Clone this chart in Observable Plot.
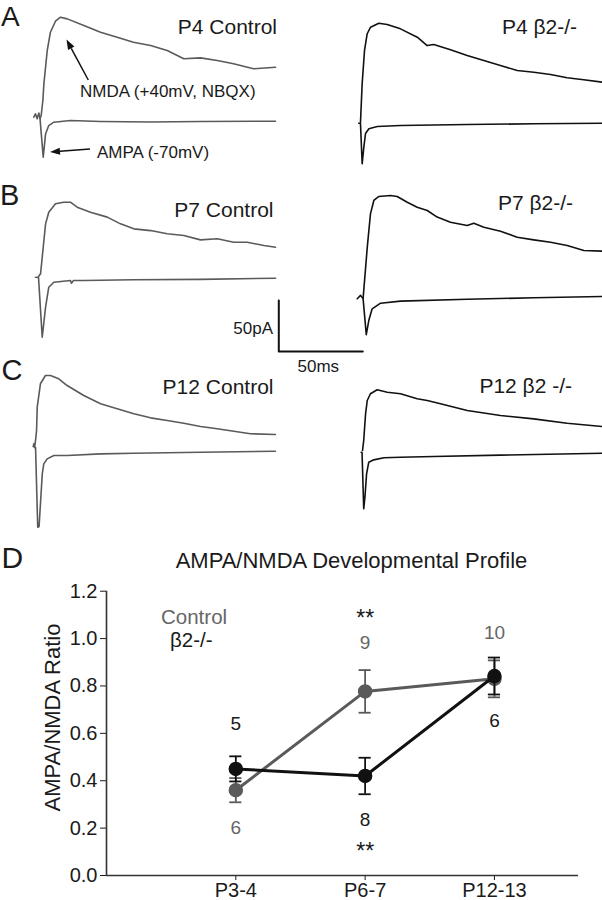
<!DOCTYPE html>
<html><head><meta charset="utf-8">
<script src="https://cdn.jsdelivr.net/npm/d3@7"></script>
<script src="https://cdn.jsdelivr.net/npm/@observablehq/plot@0.6"></script>
<style>
html,body{margin:0;padding:0;background:#fff;}
#fig{position:relative;width:602px;height:900px;overflow:hidden;font-family:"Liberation Sans",Arial,sans-serif;background:#fff;}
#fig > svg{position:absolute;margin:0;}
</style></head><body><div id="fig"></div>
<script>
// ---------- Data: recorded traces [time ms, current pA] ----------
const p4CtrlAMPA = [[0,0],[1.0,3.3],[2.0,-1.6],[3.0,4.1],[3.7,-1.3],[5.6,-39.2],[6.4,-26.2],[7.0,-16.4],[8.9,-8.2],[11.9,-4.9],[21.8,-3.3],[39.7,-4.2],[69.5,-4.7],[99.2,-4.2],[143.9,-3.9]];
const p4CtrlNMDA = [[3.7,-1.3],[4.4,1.7],[5.4,16.4],[6.0,32.7],[8.0,65.4],[9.9,83.3],[12.9,94.1],[15.9,98.0],[19.9,96.4],[29.8,89.9],[39.7,83.3],[49.6,78.4],[59.3,73.5],[69.5,70.3],[79.4,65.4],[89.3,57.3],[99.2,58.2],[109.2,55.6],[118.9,52.4],[130.8,47.5],[143.9,49.0]];
const p4KoAMPA = [[0,0],[1.0,-0.3],[2.0,-39.8],[3.0,-23.5],[4.0,-10.1],[6.0,-5.5],[11.0,-3.3],[24.8,-2.2],[64.5,-1.3],[104,-0.6],[144.9,0]];
const p4KoNMDA = [[1.0,0.6],[2.0,38.6],[3.4,71.3],[5.0,87.7],[7.0,94.1],[11.9,98.0],[16.9,96.8],[24.8,92.5],[34.8,84.3],[40.7,76.1],[44.6,77.2],[54.6,72.0],[64.5,66.4],[74.4,61.5],[84.3,56.5],[94.3,51.7],[104.2,50.0],[114.1,47.8],[124,44.5],[133.9,42.6],[144.9,40.2]];
const p7CtrlAMPA = [[0,0],[1.8,-0.3],[4.0,-58.8],[6.0,-29.4],[7.9,-9.8],[10.9,-4.9],[20.8,-3.3],[21.4,-5.9],[22.6,-3.3],[28.8,-3.3],[58.3,-2.5],[98.2,-2.1],[142.9,-1.0]];
const p7CtrlNMDA = [[1.8,0.6],[3.0,3.3],[4.6,29.4],[6.0,52.3],[7.9,63.7],[11.9,72.0],[16.8,73.5],[20.8,73.5],[24.8,68.6],[32.7,63.7],[42.7,58.9],[50.6,52.3],[58.5,47.4],[68.5,45.7],[78.4,42.6],[88.3,40.9],[98.2,36.6],[108.2,37.7],[118,34.3],[126,34.3],[135.9,31.1],[142.9,29.4]];
const p7KoAMPA = [[0,0],[2.0,3.3],[3.5,0.3],[5.4,-35.1],[6.9,-21.3],[8.9,-9.8],[13.9,-4.3],[25.8,-2.3],[65.5,-0.4],[105.1,1.0],[145.8,2.2]];
const p7KoNMDA = [[3.5,0.3],[3.9,8.2],[6.0,50.6],[7.9,83.3],[9.9,96.4],[12.9,100.3],[19.8,101.2],[23.8,100.3],[29.8,94.7],[35.7,89.8],[41.7,86.6],[47.6,80.1],[55.5,75.1],[65.5,71.9],[69.4,74.1],[75.4,70.2],[85.3,66.3],[95.2,60.3],[105.1,57.8],[115.1,55.4],[125,52.3],[134.9,47.4],[145.8,46.7]];
const p12CtrlAMPA = [[0,0],[0.5,2.9],[0.8,-1.0],[1.4,-1.0],[2.7,-79.1],[3.5,-78.4],[5.4,-26.8],[6.3,-17.0],[8.3,-12.1],[12.3,-8.8],[20.2,-8.8],[40.1,-7.2],[59.9,-6.6],[99.6,-5.6],[144.2,-4.6]];
const p12CtrlNMDA = [[0.8,-1.0],[1.4,5.9],[2.0,15.7],[2.4,38.5],[4.3,61.5],[7.3,69.6],[10.3,69.6],[15.2,66.4],[20.2,59.8],[30.1,50.0],[40.1,41.9],[50.0,37.0],[59.9,32.1],[69.8,28.1],[79.8,25.5],[89.6,22.8],[99.6,19.6],[109.5,17.4],[119.4,15.0],[129.3,12.5],[144.2,11.8]];
const p12KoAMPA = [[0,0],[0.5,-0.3],[1.5,-55.5],[2.3,-42.5],[3.2,-21.2],[4.5,-9.8],[7.5,-7.5],[13.5,-5.5],[23.4,-4.9],[43.2,-4.2],[82.9,-2.9],[143.5,-1.0]];
const p12KoNMDA = [[0.8,1.7],[1.5,11.5],[2.6,37.6],[3.6,50.7],[5.5,57.3],[9.5,61.2],[15.5,58.8],[23.4,57.3],[33.3,52.4],[39.3,50.7],[47.2,47.5],[63.1,40.9],[82.9,36.0],[102.7,32.7],[122.6,28.4],[143.5,25.2]];
const scaleBarMs = 50, scaleBarPA = 50;

// ---------- Data: AMPA/NMDA ratio ----------
const ages = ["P3-4", "P6-7", "P12-13"];
const ctrlMean = [0.36, 0.777, 0.83];
const ctrlSem = [0.051, 0.09, 0.078];
const ctrlN = [6, 9, 10];
const koMean = [0.45, 0.42, 0.842];
const koSem = [0.053, 0.077, 0.078];
const koN = [5, 8, 6];
const yTicks = [0, 0.2, 0.4, 0.6, 0.8, 1.0, 1.2];
const sigAges = ["P6-7"];
const sigText = "**";

// ---------- Layout ----------
const GRAY = "#5a5a5a", BLACK = "#111", TXT = "#1a1a1a";
const FONT = "'Liberation Sans', Arial, Helvetica, sans-serif";
const fig = document.getElementById("fig");
function place(svg, x, y) { svg.style.left = x + "px"; svg.style.top = y + "px"; fig.appendChild(svg); }

const KX = 1.68, KY = 1.02; // px per ms, px per pA
function tracePanel(traces, color, box, origin, width = 1.6) {
  const svg = Plot.plot({
    width: box.w, height: box.h,
    marginTop: 0, marginRight: 0, marginBottom: 0, marginLeft: 0,
    style: {background: "transparent", overflow: "visible"},
    x: {axis: null, domain: [(box.x - origin.x) / KX, (box.x + box.w - origin.x) / KX]},
    y: {axis: null, domain: [(origin.y - box.y - box.h) / KY, (origin.y - box.y) / KY]},
    marks: traces.map(tr => Plot.line(tr, {x: d => d[0], y: d => d[1], stroke: color, strokeWidth: width}))
  });
  place(svg, box.x, box.y);
}

tracePanel([p4CtrlAMPA, p4CtrlNMDA], GRAY, {x: 0, y: 0, w: 301, h: 180}, {x: 33.3, y: 116.7});
tracePanel([p4KoAMPA, p4KoNMDA], BLACK, {x: 301, y: 0, w: 301, h: 180}, {x: 358.3, y: 122.7});
tracePanel([p7CtrlAMPA, p7CtrlNMDA], GRAY, {x: 0, y: 180, w: 301, h: 170}, {x: 35, y: 276.7});
tracePanel([p7KoAMPA, p7KoNMDA], BLACK, {x: 301, y: 180, w: 301, h: 170}, {x: 356.7, y: 298.3});
tracePanel([p12CtrlAMPA, p12CtrlNMDA], GRAY, {x: 0, y: 350, w: 301, h: 190}, {x: 32.7, y: 446});
tracePanel([p12KoAMPA, p12KoNMDA], BLACK, {x: 301, y: 350, w: 301, h: 190}, {x: 360.7, y: 451.7});
// scale bar
tracePanel([[[0, scaleBarPA], [0, 0], [scaleBarMs, 0]]], BLACK, {x: 270, y: 290, w: 110, h: 70}, {x: 278.3, y: 351}, 2);

// ---------- Panel D ----------
const ctrl = ages.map((age, i) => ({x: i + 1, age, mean: ctrlMean[i], lo: ctrlMean[i] - ctrlSem[i], hi: ctrlMean[i] + ctrlSem[i], n: ctrlN[i]}));
const ko = ages.map((age, i) => ({x: i + 1, age, mean: koMean[i], lo: koMean[i] - koSem[i], hi: koMean[i] + koSem[i], n: koN[i]}));
const ctrlLabelAbove = [false, true, true];
const koLabelAbove = [true, false, false];
const CAP = 0.047;
function seriesMarks(s, color) {
  return [
    Plot.line(s, {x: "x", y: "mean", stroke: color, strokeWidth: 3}),
    Plot.ruleX(s, {x: "x", y1: "lo", y2: "hi", stroke: color, strokeWidth: 1.8}),
    Plot.ruleY(s, {x1: d => d.x - CAP, x2: d => d.x + CAP, y: "hi", stroke: color, strokeWidth: 1.8}),
    Plot.ruleY(s, {x1: d => d.x - CAP, x2: d => d.x + CAP, y: "lo", stroke: color, strokeWidth: 1.8}),
    Plot.dot(s, {x: "x", y: "mean", r: 6.5, fill: color, stroke: color})
  ];
}
const sigIdx = sigAges.map(a => ages.indexOf(a));
const dSvg = Plot.plot({
  width: 602, height: 380,
  marginLeft: 106, marginRight: 24, marginTop: 70.7, marginBottom: 25,
  style: {background: "transparent", overflow: "visible", fontSize: "20px", fontFamily: FONT, color: TXT},
  x: {domain: [0, 3.65], ticks: [1, 2, 3], tickFormat: i => ages[i - 1], tickSize: 5, tickPadding: 2, label: null},
  y: {domain: [0, d3.max(yTicks)], ticks: yTicks, tickFormat: ".1f", tickSize: 6, tickPadding: 3, label: null},
  marks: [
    Plot.ruleY([0], {stroke: "#333", strokeWidth: 1.6}),
    Plot.ruleX([0], {y1: 0, y2: d3.max(yTicks), stroke: "#333", strokeWidth: 1.6}),
    ...seriesMarks(ctrl, GRAY),
    ...seriesMarks(ko, BLACK),
    Plot.text(ctrl.filter((d, i) => ctrlLabelAbove[i]), {x: "x", y: "hi", text: "n", dy: -27.5, fill: "#666", fontSize: 19}),
    Plot.text(ctrl.filter((d, i) => !ctrlLabelAbove[i]), {x: "x", y: "lo", text: "n", dy: 26, fill: "#666", fontSize: 19}),
    Plot.text(ko.filter((d, i) => koLabelAbove[i]), {x: "x", y: "hi", text: "n", dy: -32, fill: TXT, fontSize: 19}),
    Plot.text(ko.filter((d, i) => !koLabelAbove[i]), {x: "x", y: "lo", text: "n", dy: 26, fill: TXT, fontSize: 19}),
    Plot.text(sigIdx.map(i => ctrl[i]), {x: "x", y: "hi", text: () => sigText, dy: -51.2, fill: TXT, fontSize: 23}),
    Plot.text(sigIdx.map(i => ko[i]), {x: "x", y: "lo", text: () => sigText, dy: 57.3, fill: TXT, fontSize: 23})
  ]
});
place(dSvg, 0, 520);

// ---------- Text & annotation overlay ----------
const ov = d3.create("svg").attr("width", 602).attr("height", 900)
  .style("left", "0px").style("top", "0px").style("font-family", FONT).style("pointer-events", "none");
const texts = [
  ["A", 1, 25.5, 28, "start", TXT], ["B", 0, 205, 29, "start", TXT], ["C", 1.5, 380, 29, "start", TXT], ["D", 1.5, 568, 30, "start", TXT],
  ["P4 Control", 277, 33.5, 21, "end", TXT], ["P4 β2-/-", 577, 34, 21, "end", TXT],
  ["P7 Control", 273.5, 216.7, 21, "end", TXT], ["P7 β2-/-", 573, 209.5, 21, "end", TXT],
  ["P12 Control", 273.5, 393.5, 21, "end", TXT], ["P12 β2 -/-", 572, 393, 21, "end", TXT],
  ["NMDA (+40mV, NBQX)", 80, 96.5, 17, "start", TXT], ["AMPA (-70mV)", 97, 158, 17, "start", TXT],
  ["50pA", 273, 333.5, 17, "end", TXT], ["50ms", 297.5, 371.7, 17, "start", TXT],
  ["AMPA/NMDA Developmental Profile", 351.5, 568.3, 22, "middle", TXT],
  ["Control", 161, 623.5, 20.5, "start", "#666"], ["β2-/-", 170, 646.5, 20.5, "start", TXT]
];
for (const [t, x, y, s, a, c] of texts) {
  ov.append("text").attr("x", x).attr("y", y).attr("font-size", s).attr("text-anchor", a).attr("fill", c).text(t);
}
ov.append("text").attr("transform", "translate(60,717.5) rotate(-90)").attr("font-size", 22)
  .attr("text-anchor", "middle").attr("fill", TXT).text("AMPA/NMDA Ratio");
function arrow(x1, y1, x2, y2) {
  const a = Math.atan2(y2 - y1, x2 - x1), L = 10, W = 3.6;
  const bx = x2 - L * Math.cos(a), by = y2 - L * Math.sin(a);
  ov.append("line").attr("x1", x1).attr("y1", y1).attr("x2", bx).attr("y2", by).attr("stroke", "#111").attr("stroke-width", 1.5);
  ov.append("path").attr("d", `M${x2},${y2}L${bx - W * Math.sin(a)},${by + W * Math.cos(a)}L${bx + W * Math.sin(a)},${by - W * Math.cos(a)}Z`).attr("fill", "#111");
}
arrow(88.3, 80, 66.5, 39.5);
arrow(90, 149, 50, 152);
place(ov.node(), 0, 0);
</script></body></html>
